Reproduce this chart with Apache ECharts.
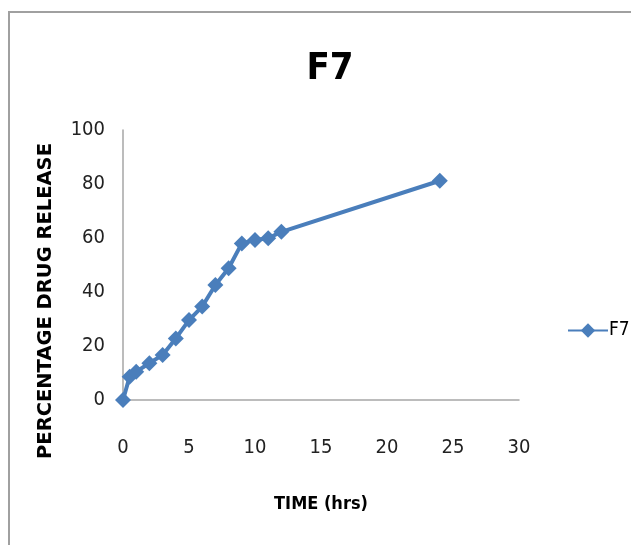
<!DOCTYPE html>
<html>
<head>
<meta charset="utf-8">
<script src="https://cdn.jsdelivr.net/npm/echarts@6/dist/echarts.min.js"></script>
<style>
  html, body { margin: 0; padding: 0; background: #fff; }
  #chart { width: 631px; height: 545px; }
</style>
</head>
<body>
<div id="chart"></div>
<script>
// time (hrs) and % drug release
let timeHrs = [0, 0.5, 1, 2, 3, 4, 5, 6, 7, 8, 9, 10, 11, 12, 24];
let release = [0, 8.6, 10.5, 13.6, 16.7, 22.8, 29.6, 34.6, 42.6, 48.8, 58, 59.3, 59.9, 62.3, 81.2];

let seriesData = timeHrs.map(function (t, i) { return [t, release[i]]; });

let dom = document.getElementById("chart");
let chart = echarts.init(dom);

let narrow = '"Liberation Sans Narrow", "DejaVu Sans Condensed", sans-serif';

let option = {
    animation: false,
    backgroundColor: '#fff',
    title: {
        text: 'F7',
        left: 325,
        top: 45,
        textAlign: 'center',
        textStyle: {
            fontFamily: narrow,
            fontWeight: 'bold',
            fontSize: 38,
            color: '#000'
        }
    },
    legend: {
        data: ['F7'],
        left: 562,
        top: 316,
        itemWidth: 40,
        itemHeight: 18,
        itemGap: 4,
        textStyle: {
            fontFamily: narrow,
            fontSize: 19,
            color: '#000',
            padding: [0, 0, 0, -4]
        }
    },
    graphic: [
        {
            type: 'polyline',
            shape: { points: [[9, 545], [9, 12], [631, 12]] },
            style: { stroke: '#a0a0a0', lineWidth: 2, fill: null }
        },
        {
            // y axis title, placed like the original
            type: 'text',
            x: 46,
            y: 301,
            rotation: Math.PI / 2,
            style: {
                text: 'PERCENTAGE DRUG RELEASE',
                fontFamily: '"DejaVu Sans", sans-serif',
                fontWeight: 'bold',
                fontSize: 19.5,
                fill: '#000',
                align: 'center',
                verticalAlign: 'middle'
            }
        }
    ],
    grid: {
        left: 123,
        right: 112,
        top: 130,
        bottom: 145
    },
    xAxis: {
        type: 'value',
        min: 0,
        max: 30,
        interval: 5,
        name: 'TIME (hrs)',
        nameLocation: 'middle',
        nameGap: 95,
        nameTextStyle: {
            fontFamily: narrow,
            fontWeight: 'bold',
            fontSize: 18,
            color: '#000'
        },
        axisLine: { lineStyle: { color: '#a6a6a6', width: 1.5 } },
        axisTick: { show: false },
        splitLine: { show: false },
        axisLabel: {
            margin: 38,
            fontFamily: narrow,
            fontSize: 20,
            color: '#222'
        }
    },
    yAxis: {
        type: 'value',
        min: 0,
        max: 100,
        interval: 20,
        axisLine: { show: true, lineStyle: { color: '#a6a6a6', width: 1.5 } },
        axisTick: { show: false },
        splitLine: { show: false },
        axisLabel: {
            margin: 18,
            fontFamily: narrow,
            fontSize: 20,
            color: '#222'
        }
    },
    series: [
        {
            name: 'F7',
            type: 'line',
            data: seriesData,
            symbol: 'diamond',
            symbolSize: 16,
            showAllSymbol: true,
            clip: false,
            itemStyle: { color: '#4a7ebb' },
            lineStyle: { color: '#4a7ebb', width: 4 }
        }
    ]
};

chart.setOption(option);
</script>
</body>
</html>
